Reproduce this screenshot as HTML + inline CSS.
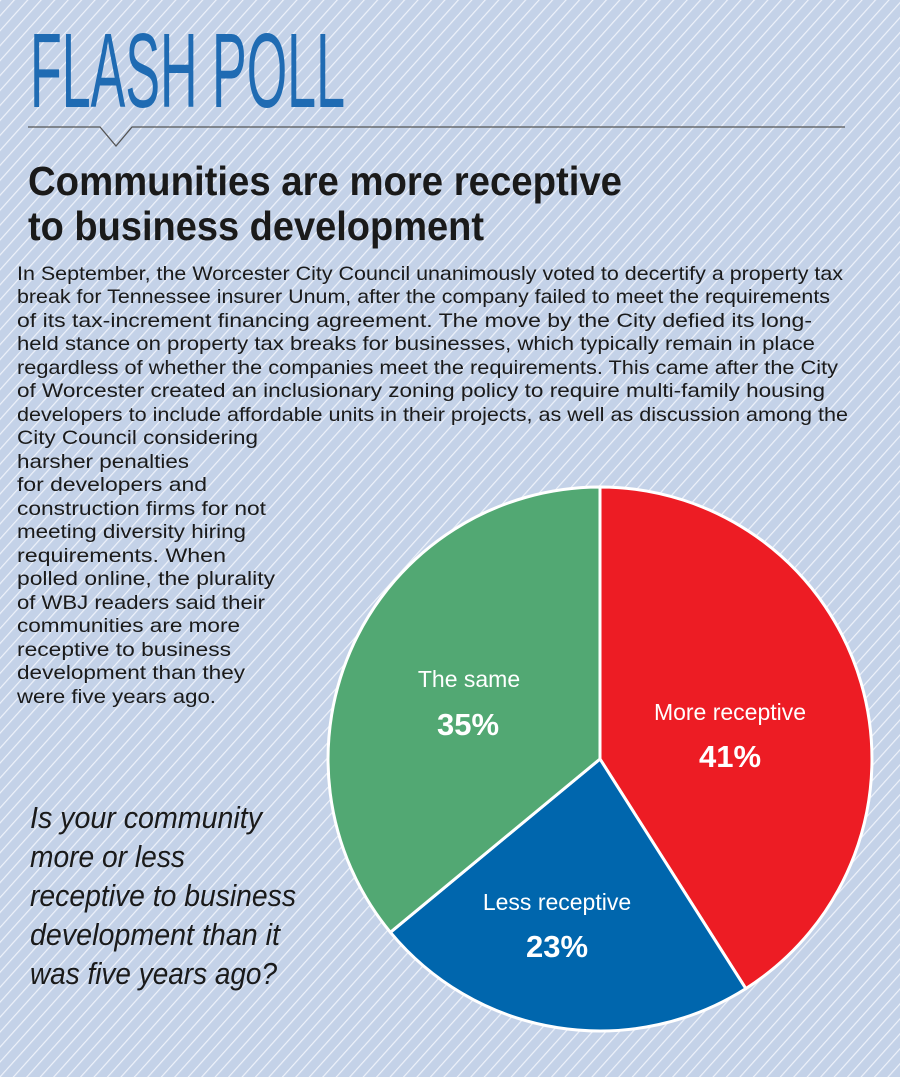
<!DOCTYPE html>
<html><head><meta charset="utf-8"><style>
html,body{margin:0;padding:0;width:900px;height:1077px;overflow:hidden;background:#c6d4e9}
svg{display:block}
text{font-family:"Liberation Sans",Arial,sans-serif}
</style></head><body>
<svg width="900" height="1077" viewBox="0 0 900 1077" xmlns="http://www.w3.org/2000/svg">
<defs>
<pattern id="st" width="10" height="10" patternUnits="userSpaceOnUse" patternTransform="rotate(42)">
<rect width="10" height="10" fill="#c4d2e8"/>
<rect x="0" y="0" width="1.2" height="10" fill="#eef2fa"/>
</pattern>
</defs>
<rect width="900" height="1077" fill="url(#st)"/>
<text x="30" y="107" font-size="106" fill="#1f6bb3" textLength="315" lengthAdjust="spacingAndGlyphs">FLASH POLL</text>
<polyline points="28,127 100,127 116,146 132,127 845,127" fill="none" stroke="#555" stroke-width="1.3"/>
<g font-weight="bold" font-size="41" fill="#1a1a1a">
<text x="28" y="195" textLength="594" lengthAdjust="spacingAndGlyphs">Communities are more receptive</text>
<text x="28" y="240" textLength="456" lengthAdjust="spacingAndGlyphs">to business development</text>
</g>
<g font-size="19.5" fill="#1a1a1a">
<text x="17" y="280" textLength="826" lengthAdjust="spacingAndGlyphs">In September, the Worcester City Council unanimously voted to decertify a property tax</text>
<text x="17" y="303" textLength="813" lengthAdjust="spacingAndGlyphs">break for Tennessee insurer Unum, after the company failed to meet the requirements</text>
<text x="17" y="327" textLength="795" lengthAdjust="spacingAndGlyphs">of its tax-increment financing agreement. The move by the City defied its long-</text>
<text x="17" y="350" textLength="798" lengthAdjust="spacingAndGlyphs">held stance on property tax breaks for businesses, which typically remain in place</text>
<text x="17" y="374" textLength="821" lengthAdjust="spacingAndGlyphs">regardless of whether the companies meet the requirements. This came after the City</text>
<text x="17" y="397" textLength="808" lengthAdjust="spacingAndGlyphs">of Worcester created an inclusionary zoning policy to require multi-family housing</text>
<text x="17" y="421" textLength="831" lengthAdjust="spacingAndGlyphs">developers to include affordable units in their projects, as well as discussion among the</text>
<text x="17" y="444" textLength="241" lengthAdjust="spacingAndGlyphs">City Council considering</text>
<text x="17" y="468" textLength="172" lengthAdjust="spacingAndGlyphs">harsher penalties</text>
<text x="17" y="491" textLength="190" lengthAdjust="spacingAndGlyphs">for developers and</text>
<text x="17" y="515" textLength="249" lengthAdjust="spacingAndGlyphs">construction firms for not</text>
<text x="17" y="538" textLength="229" lengthAdjust="spacingAndGlyphs">meeting diversity hiring</text>
<text x="17" y="562" textLength="209" lengthAdjust="spacingAndGlyphs">requirements. When</text>
<text x="17" y="585" textLength="258" lengthAdjust="spacingAndGlyphs">polled online, the plurality</text>
<text x="17" y="609" textLength="248" lengthAdjust="spacingAndGlyphs">of WBJ readers said their</text>
<text x="17" y="632" textLength="223" lengthAdjust="spacingAndGlyphs">communities are more</text>
<text x="17" y="656" textLength="214" lengthAdjust="spacingAndGlyphs">receptive to business</text>
<text x="17" y="679" textLength="228" lengthAdjust="spacingAndGlyphs">development than they</text>
<text x="17" y="703" textLength="199" lengthAdjust="spacingAndGlyphs">were five years ago.</text>
</g>
<g font-size="31" font-style="italic" fill="#1a1a1a">
<text x="30" y="828" textLength="232" lengthAdjust="spacingAndGlyphs">Is your community</text>
<text x="30" y="867" textLength="155" lengthAdjust="spacingAndGlyphs">more or less</text>
<text x="30" y="906" textLength="266" lengthAdjust="spacingAndGlyphs">receptive to business</text>
<text x="30" y="945" textLength="250" lengthAdjust="spacingAndGlyphs">development than it</text>
<text x="30" y="984" textLength="247" lengthAdjust="spacingAndGlyphs">was five years ago?</text>
</g>
<g stroke="#fff" stroke-width="3" stroke-linejoin="round">
<path d="M600,759 L600,487 A272,272 0 0 1 745.8,988.6 Z" fill="#ed1c24"/>
<path d="M600,759 L745.8,988.6 A272,272 0 0 1 390.4,932.3 Z" fill="#0066ad"/>
<path d="M600,759 L390.4,932.3 A272,272 0 0 1 600,487 Z" fill="#52a873"/>
</g>
<g fill="#fff" text-anchor="middle">
<text x="469" y="687" font-size="23">The same</text>
<text x="468" y="735" font-size="31" font-weight="bold">35%</text>
<text x="730" y="720" font-size="23">More receptive</text>
<text x="730" y="767" font-size="31" font-weight="bold">41%</text>
<text x="557" y="910" font-size="23">Less receptive</text>
<text x="557" y="957" font-size="31" font-weight="bold">23%</text>
</g>
</svg>
</body></html>
